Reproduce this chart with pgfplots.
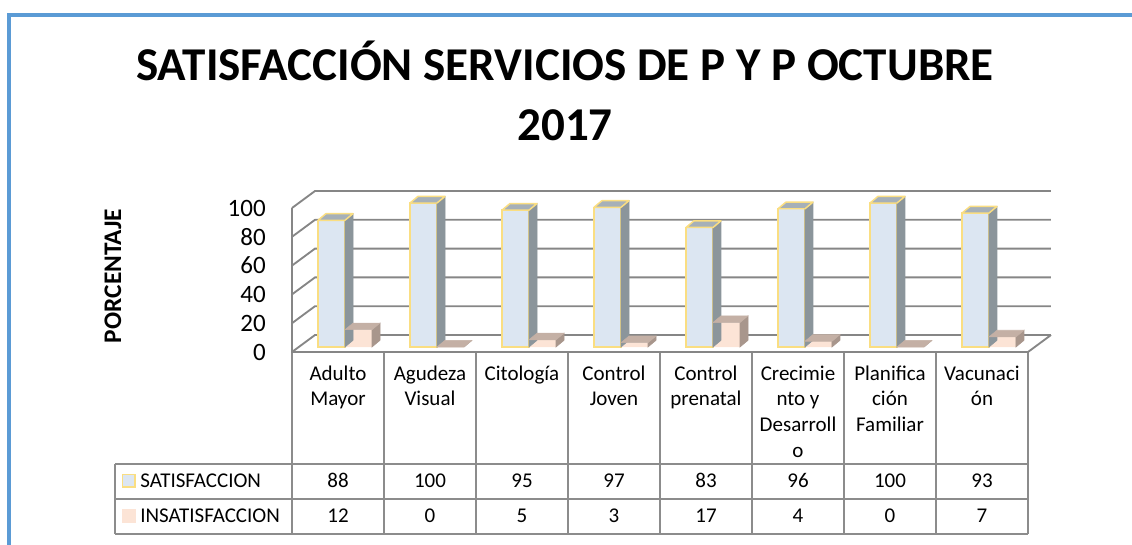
\documentclass[border=0pt]{standalone}
\usepackage{fontspec}
\setmainfont{Carlito}
\usepackage{pgfplots}
\pgfplotsset{compat=1.18}
\usepackage{pgfplotstable}

\definecolor{frameblue}{RGB}{91,155,213}
\definecolor{gridc}{RGB}{134,134,134}
\definecolor{tabc}{RGB}{140,140,140}
\definecolor{satfront}{RGB}{220,230,242}
\definecolor{satedge}{RGB}{250,222,130}
\definecolor{sattop}{RGB}{166,176,184}
\definecolor{satside}{RGB}{139,149,155}
\definecolor{insfront}{RGB}{252,228,214}
\definecolor{instop}{RGB}{196,176,165}
\definecolor{insside}{RGB}{168,150,140}

\pgfplotstableread{
idx sat ins
0 88 12
1 100 0
2 95 5
3 97 3
4 83 17
5 96 4
6 100 0
7 93 7
}\data

\newcommand{\tabfont}{\fontsize{15.75}{19.3}\selectfont}
\newcommand{\axfont}{\fontsize{18.75}{22}\selectfont}
\newcommand{\titlefont}{\fontsize{35.3}{41}\selectfont\bfseries}
\newcommand{\cl}[1]{\begin{tabular}[t]{@{}c@{}}#1\end{tabular}}
\newdimen\barh

\begin{document}
\begin{tikzpicture}
\useasboundingbox (0,0) rectangle (849pt,408pt);
\begin{scope}[x=0.75pt,y=-0.75pt,shift={(0pt,408pt)}]
  % frame
  \draw[frameblue, line width=3pt] (9,600) -- (9,15) -- (1200,15);
  % title
  \node[anchor=base, font=\titlefont, inner sep=0pt] at (565,80) {SATISFACCIÓN SERVICIOS DE P Y P OCTUBRE};
  \node[anchor=base, font=\titlefont, inner sep=0pt] at (565,141) {2017};
  \node[rotate=90, font=\fontsize{19}{22}\selectfont\bfseries, inner sep=0pt] at (113,276) {PORCENTAJE};
  % data table grid
  \draw[tabc, line width=1pt] (115,464) -- (1028,464) (115,499) -- (1028,499) (115,534) -- (1028,534) (115,464) -- (115,534);
  \foreach \i in {0,...,8} \draw[tabc, line width=1pt] ({292+92*\i},352) -- ({292+92*\i},534);
  % legend keys
  \filldraw[fill=satfront, draw=satedge, line width=1.2pt] (122.5,474.5) rectangle (135,487);
  \fill[insfront] (122,509) rectangle (135.5,522.5);
  \node[anchor=base west, font=\tabfont, inner sep=0pt] at (140,487) {SATISFACCION};
  \node[anchor=base west, font=\tabfont, inner sep=0pt] at (140,522) {INSATISFACCION};
\end{scope}

% walls, grid, tick labels, table values
\begin{axis}[
  at={(219pt,144pt)}, anchor=south west,
  scale only axis, width=552pt, height=108pt,
  xmin=-0.5, xmax=7.5, ymin=0, ymax=100,
  clip=false,
  axis line style={draw=none}, tick style={draw=none},
  xtick={0,...,7},
  xticklabels={{\cl{Adulto\\Mayor}},{\cl{Agudeza\\Visual}},{\cl{Citología}},{\cl{Control\\Joven}},{\cl{Control\\prenatal}},{\cl{Crecimie\\nto y\\Desarroll\\o}},{\cl{Planifica\\ción\\Familiar}},{\cl{Vacunaci\\ón}}},
  xticklabel style={font=\tabfont, anchor=base, inner sep=0pt, yshift=-21pt},
  ytick={0,20,40,60,80,100},
  yticklabel style={font=\axfont, anchor=east, inner sep=0pt, xshift=-19.5pt},
  /pgf/number format/assume math mode=true,
]
\pgfplotsinvokeforeach{0,20,40,60,80,100}{
  \draw[gridc, line width=1.4pt] (axis cs:-0.5,#1) -- ([shift={(17.25pt,12.75pt)}]axis cs:-0.5,#1) -- ([shift={(17.25pt,12.75pt)}]axis cs:7.5,#1);
}
\draw[gridc, line width=1.4pt] (axis cs:-0.5,100) -- (axis cs:-0.5,0) -- (axis cs:7.5,0) -- ([shift={(17.25pt,12.75pt)}]axis cs:7.5,0);
\addplot[draw=none, mark=none, nodes near coords, point meta=explicit,
  every node near coord/.append style={anchor=base, font=\tabfont, inner sep=0pt}]
  table[x=idx, y expr=-93.75, meta=sat] {\data};
\addplot[draw=none, mark=none, nodes near coords, point meta=explicit,
  every node near coord/.append style={anchor=base, font=\tabfont, inner sep=0pt}]
  table[x=idx, y expr=-118.06, meta=ins] {\data};
\end{axis}

% 3D bars
\begin{axis}[
  at={(224.25pt,147.75pt)}, anchor=south west,
  scale only axis, width=552pt, height=108pt,
  xmin=-0.5, xmax=7.5, ymin=0, ymax=100,
  clip=false, hide axis,
]
\addplot[scatter, only marks, mark=*, mark size=0pt, mark options={draw=none, fill=none},
  visualization depends on={\thisrow{sat} \as \bh},
  scatter/@pre marker code/.code={%
    \pgfmathsetlength\barh{\bh*1.08pt}%
    \fill[satside] (0pt,0pt) -- ++(6pt,5pt) -- ++(0pt,-\barh) -- ++(-6pt,-5pt) -- cycle;
    \filldraw[fill=sattop, draw=satedge, line width=1.1pt, line join=round] (-20.25pt,0pt) -- (0pt,0pt) -- ++(6pt,5pt) -- ++(-20.25pt,0pt) -- cycle;
  },
  scatter/@post marker code/.code={}]
  table[x=idx, y=sat] {\data};
\addplot[ybar, bar width=20.25pt, bar shift=-10.125pt, fill=satfront, draw=satedge, line width=1.1pt]
  table[x=idx, y=sat] {\data};
\addplot[scatter, only marks, mark=*, mark size=0pt, mark options={draw=none, fill=none},
  visualization depends on={\thisrow{ins} \as \bh},
  scatter/@pre marker code/.code={%
    \pgfmathsetlength\barh{\bh*1.08pt}%
    \fill[insside] (20.25pt,0pt) -- ++(6pt,5pt) -- ++(0pt,-\barh) -- ++(-6pt,-5pt) -- cycle;
    \fill[instop] (0pt,0pt) -- (20.25pt,0pt) -- ++(6pt,5pt) -- ++(-20.25pt,0pt) -- cycle;
  },
  scatter/@post marker code/.code={}]
  table[x=idx, y=ins] {\data};
\addplot[ybar, bar width=20.25pt, bar shift=10.125pt, fill=insfront, draw=none]
  table[x=idx, y=ins] {\data};
\end{axis}
\end{tikzpicture}
\end{document}
